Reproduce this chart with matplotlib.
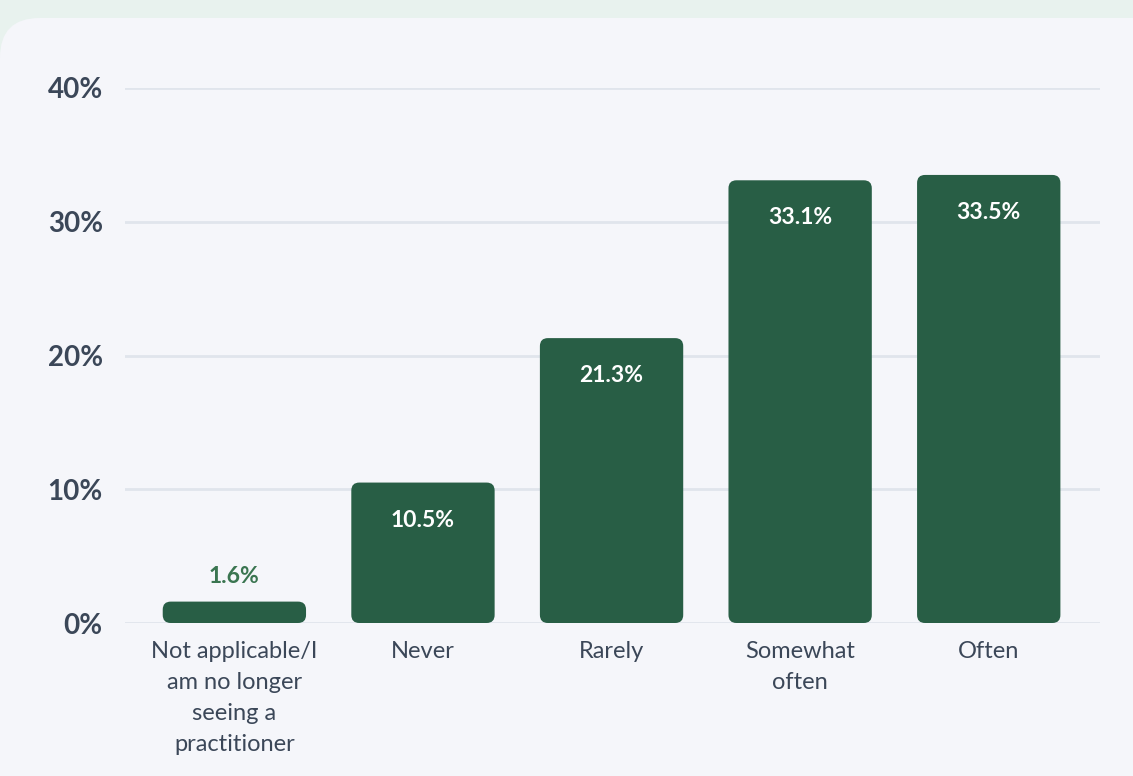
import matplotlib
matplotlib.use("Agg")
import matplotlib.pyplot as plt
from matplotlib.patches import FancyBboxPatch

plt.rcParams['font.family'] = ['Lato', 'DejaVu Sans']

categories = ["Not applicable/I\nam no longer\nseeing a\npractitioner",
              "Never", "Rarely", "Somewhat\noften", "Often"]
values = [1.6, 10.5, 21.3, 33.1, 33.5]
y_ticks = [0, 10, 20, 30, 40]
y_tick_labels = ["0%", "10%", "20%", "30%", "40%"]

BAR = "#285e45"
TEXT = "#3b4758"
GRID = "#e0e5ec"
CARD = "#f5f6fa"
STRIP = "#e8f2ee"

W, H = 1133, 776
fig = plt.figure(figsize=(W / 100, H / 100), dpi=100)
fig.patch.set_facecolor(STRIP)

# card background with rounded top-left corner
card = FancyBboxPatch((0, -0.1), 1.1, 1.1 - 18 / H,
                      boxstyle="round,pad=0,rounding_size=0.035",
                      mutation_aspect=W / H,
                      transform=fig.transFigure, facecolor=CARD,
                      edgecolor="none", zorder=0)
fig.patches.append(card)

ax_left, ax_right = 125 / W, 1100 / W
ax_bottom, ax_top = 1 - 623 / H, 1 - 88 / H
ax = fig.add_axes([ax_left, ax_bottom, ax_right - ax_left, ax_top - ax_bottom])
ax.set_facecolor("none")
ax.set_zorder(2)

x = list(range(len(categories)))
ax.set_xlim(-0.58, 4.59)
ax.set_ylim(0, 40)

ax.set_yticks(y_ticks)
ax.set_yticklabels(y_tick_labels)
ax.set_xticks(x)
ax.set_xticklabels(categories, linespacing=1.58)

for s in ax.spines.values():
    s.set_visible(False)
ax.tick_params(axis="y", length=0, pad=16, labelsize=20, labelcolor=TEXT)
ax.tick_params(axis="x", length=0, pad=13, labelsize=17, labelcolor=TEXT)
for lab in ax.get_yticklabels():
    lab.set_fontweight("bold")

ax.grid(axis="y", color=GRID, linewidth=2)
ax.set_axisbelow(True)

bar_w = 0.76
bars = ax.bar(x, values, width=bar_w, color=BAR)

# replace plain rectangles by rounded ones
fig.canvas.draw()
px_per_x = ax.transData.transform((1, 0))[0] - ax.transData.transform((0, 0))[0]
px_per_y = ax.transData.transform((0, 1))[1] - ax.transData.transform((0, 0))[1]
radius_px = 8
for b in bars:
    b.set_visible(False)
    bx, by = b.get_x(), b.get_y()
    bw, bh = b.get_width(), b.get_height()
    rp = FancyBboxPatch((bx, by), bw, bh,
                        boxstyle=f"round,pad=0,rounding_size={radius_px / px_per_x}",
                        mutation_aspect=px_per_x / px_per_y,
                        facecolor=BAR, edgecolor="none", zorder=3)
    ax.add_patch(rp)

for xi, v in zip(x, values):
    label = f"{v:.1f}%"
    if v < 5:
        ax.annotate(label, (xi, v), xytext=(0, 18), textcoords="offset points",
                    ha="center", va="center", color="#3a7550",
                    fontsize=16.5, fontweight="bold", zorder=4)
    else:
        ax.annotate(label, (xi, v), xytext=(0, -27), textcoords="offset points",
                    ha="center", va="center", color="white",
                    fontsize=16.5, fontweight="bold", zorder=4)

fig.savefig("out.png", dpi=100, facecolor=fig.get_facecolor())
